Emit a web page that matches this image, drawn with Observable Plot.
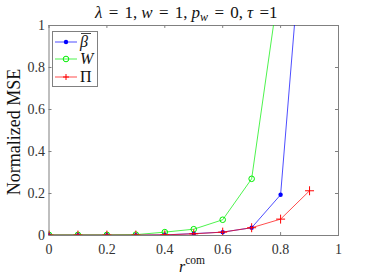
<!DOCTYPE html>
<html>
<head>
<meta charset="utf-8">
<script src="https://cdn.jsdelivr.net/npm/d3@7"></script>
<script src="https://cdn.jsdelivr.net/npm/@observablehq/plot@0.6"></script>
<style>
  html, body { margin: 0; padding: 0; background: #fff; }
  svg text, svg tspan { font-family: "Liberation Serif", serif; }
</style>
</head>
<body>
<div id="chart"></div>
<script>
// ---- data ----
const rCom = [0, 0.1, 0.2, 0.3, 0.4, 0.5, 0.6, 0.7, 0.8, 0.9];
const betaBar = [0.002, 0.002, 0.002, 0.002, 0.003, 0.009, 0.016, 0.037, 0.194, 1.88];
const wVals   = [0.003, 0.003, 0.003, 0.004, 0.016, 0.030, 0.075, 0.270, 1.24, null];
const piVals  = [0.002, 0.002, 0.002, 0.002, 0.003, 0.008, 0.016, 0.037, 0.078, 0.213];
const xTicks = [0, 0.2, 0.4, 0.6, 0.8, 1];
const yTicks = [0, 0.2, 0.4, 0.6, 0.8, 1];
const seriesLabels = ["β", "W", "Π"];
const seriesColors = ["#0000ff", "#00ee00", "#ff0000"];

const rows = (vals) => rCom.map((x, i) => ({x, y: vals[i]})).filter(d => d.y != null);
const bData = rows(betaBar), wData = rows(wVals), pData = rows(piVals);

const axisGray = "#808080";
const font = "Liberation Serif";

const svg = Plot.plot({
  width: 374,
  height: 280,
  marginLeft: 48.5,
  marginRight: 36,
  marginTop: 25,
  marginBottom: 45,
  style: {fontFamily: font, fontSize: "14px", color: "#333", background: "#fff", overflow: "visible"},
  x: {domain: [0, 1]},
  y: {domain: [0, 1]},
  marks: [
    Plot.frame({stroke: axisGray, strokeWidth: 1}),
    Plot.ruleX(xTicks, {x: d => d, y1: 0, y2: 0.014, stroke: axisGray}),
    Plot.ruleX(xTicks, {x: d => d, y1: 1, y2: 0.986, stroke: axisGray}),
    Plot.ruleY(yTicks, {y: d => d, x1: 0, x2: 0.0104, stroke: axisGray}),
    Plot.ruleY(yTicks, {y: d => d, x1: 1, x2: 0.9896, stroke: axisGray}),
    Plot.axisX({ticks: xTicks, tickSize: 0, tickPadding: 9, fontSize: 14, tickFormat: d => String(d), label: null}),
    Plot.axisY({ticks: yTicks, tickSize: 0, tickPadding: 4, fontSize: 14, tickFormat: d => String(d), label: null}),
    Plot.line(bData, {x: "x", y: "y", stroke: seriesColors[0], strokeWidth: 0.7, clip: true}),
    Plot.dot(bData, {x: "x", y: "y", fill: seriesColors[0], r: 2.2, clip: true}),
    Plot.line(wData, {x: "x", y: "y", stroke: seriesColors[1], strokeWidth: 0.7, clip: true}),
    Plot.dot(wData, {x: "x", y: "y", stroke: seriesColors[1], fill: "none", r: 2.8, strokeWidth: 1, clip: true}),
    Plot.line(pData, {x: "x", y: "y", stroke: seriesColors[2], strokeWidth: 0.7, clip: true}),
    Plot.dot(pData, {x: "x", y: "y", stroke: seriesColors[2], symbol: "plus", r: 3, strokeWidth: 1, clip: true})
  ]
});

const s = d3.select(svg);
const Y = svg.scale("y");

// Title (math-like spacing)
const title = s.append("text")
  .attr("x", 95).attr("y", 17.5)
  .attr("text-anchor", "start")
  .style("font-size", "17px").attr("fill", "#111");
const thick = 6.3, thin = 4;
const parts = [
  ["λ", 0, true], ["=", thick], ["1", thick], [",", 0],
  ["w", thin, true], ["=", thick], ["1", thick], [",", 0],
  ["p", thin, true], ["w", 0, true, "sub"], ["=", thick], ["0", thick], [",", 0],
  ["τ", thin, true], ["=", thick], ["1", 0]
];
let sub = false;
parts.forEach(([t, dx, it, kind]) => {
  const ts = title.append("tspan").attr("dx", dx).text(t);
  if (it) ts.attr("font-style", "italic");
  if (kind === "sub") { ts.style("font-size", "12px").attr("dy", 3.5); sub = true; }
  else if (sub) { ts.attr("dy", -3.5); sub = false; }
});

// X label
const xl = s.append("text")
  .attr("x", 192).attr("y", 272)
  .attr("text-anchor", "middle")
  .style("font-size", "16px").attr("fill", "#111");
xl.append("tspan").attr("font-style", "italic").text("r");
xl.append("tspan").style("font-size", "11.5px").attr("dy", -8).text("com");

// Y label
s.append("text")
  .attr("transform", `translate(20,${(Y.apply(0) + Y.apply(1)) / 2 + 2}) rotate(-90)`)
  .attr("text-anchor", "middle")
  .style("font-size", "18px").attr("fill", "#111")
  .text("Normalized MSE");

// Legend
const lg = s.append("g");
lg.append("rect").attr("x", 52.5).attr("y", 31.5).attr("width", 45).attr("height", 55)
  .attr("fill", "#fff").attr("stroke", axisGray).attr("stroke-width", 1);
const ly = [42, 59, 77];
ly.forEach((yy, i) => {
  lg.append("line").attr("x1", 55).attr("x2", 77).attr("y1", yy).attr("y2", yy)
    .attr("stroke", seriesColors[i]).attr("stroke-width", 0.7);
  if (i === 0) {
    lg.append("circle").attr("cx", 66).attr("cy", yy).attr("r", 2.2).attr("fill", seriesColors[i]);
  } else if (i === 1) {
    lg.append("circle").attr("cx", 66).attr("cy", yy).attr("r", 2.8).attr("fill", "none").attr("stroke", seriesColors[i]);
  } else {
    lg.append("path").attr("d", `M63,${yy}H69M66,${yy - 3}V${yy + 3}`).attr("stroke", seriesColors[i]);
  }
  lg.append("text").attr("x", 80).attr("y", yy + 5)
    .attr("text-anchor", "start")
    .style("font-size", "16px").attr("fill", "#111")
    .attr("font-style", i === 2 ? "normal" : "italic")
    .text(seriesLabels[i]);
  if (i === 0) {
    lg.append("line").attr("x1", 81).attr("x2", 91).attr("y1", yy - 8.5).attr("y2", yy - 8.5)
      .attr("stroke", "#111").attr("stroke-width", 0.8);
  }
});

document.getElementById("chart").appendChild(svg);
</script>
</body>
</html>
